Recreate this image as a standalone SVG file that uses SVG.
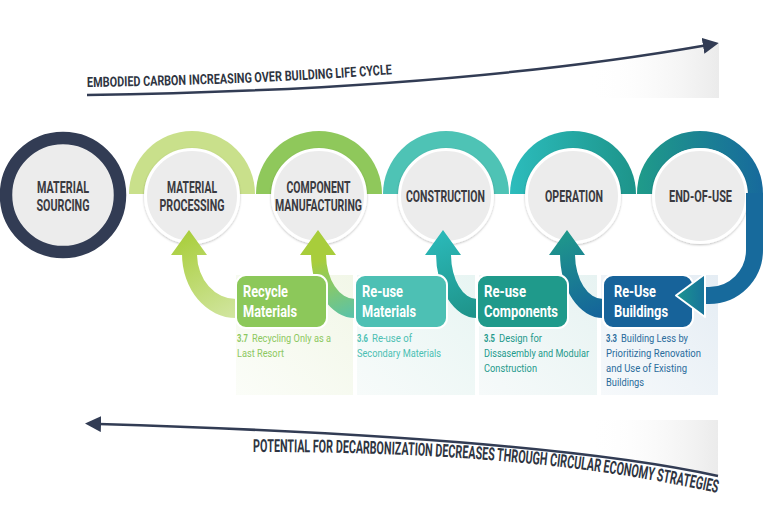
<svg xmlns="http://www.w3.org/2000/svg" width="768" height="523" viewBox="0 0 768 523">
<style>
  .lbl{font-family:Roboto,"Liberation Sans",sans-serif;font-weight:700;font-size:16px;fill:#3a3a40;text-anchor:middle}
  .ttl{font-family:Roboto,"Liberation Sans",sans-serif;font-weight:700;font-size:16.5px;fill:#ffffff}
  .dsc{font-family:Roboto,"Liberation Sans",sans-serif;font-weight:400;font-size:11.5px}
  .num{font-family:Roboto,"Liberation Sans",sans-serif;font-weight:700;font-size:11.5px}
  .axis{font-family:Roboto,"Liberation Sans",sans-serif;font-weight:700;fill:#2e3441}
  .disc{fill:#ececec;stroke:#ffffff;stroke-width:3;filter:url(#sh)}
  .box{stroke:#ffffff;stroke-width:2}
  .dline{fill:none;stroke:#323c54;stroke-width:2.5;marker-end:url(#ah)}
</style>
<defs>
  <filter id="sh" x="-20%" y="-20%" width="140%" height="140%">
    <feDropShadow dx="0" dy="1" stdDeviation="1.2" flood-color="#000" flood-opacity="0.25"/>
  </filter>
  <marker id="ah" viewBox="0 0 16 16" refX="2" refY="8" markerWidth="16" markerHeight="16" markerUnits="userSpaceOnUse" orient="auto">
    <path d="M0,0 L16,8 L0,16 Z" fill="#323c54"/>
  </marker>
  <linearGradient id="fade" x1="0" y1="0" x2="1" y2="0">
    <stop offset="0" stop-color="#ffffff" stop-opacity="0"/>
    <stop offset="1" stop-color="#ebebeb"/>
  </linearGradient>
  <linearGradient id="gOp" x1="510" y1="0" x2="636" y2="0" gradientUnits="userSpaceOnUse">
    <stop offset="0" stop-color="#2cbcbc"/>
    <stop offset="1" stop-color="#1d948a"/>
  </linearGradient>
  <linearGradient id="gEou" x1="640" y1="0" x2="762" y2="0" gradientUnits="userSpaceOnUse">
    <stop offset="0" stop-color="#1f9a8a"/>
    <stop offset="1" stop-color="#176a9c"/>
  </linearGradient>
  <linearGradient id="gEouH" x1="676" y1="0" x2="706" y2="0" gradientUnits="userSpaceOnUse">
    <stop offset="0" stop-color="#1b9590"/>
    <stop offset="1" stop-color="#17719b"/>
  </linearGradient>
  <linearGradient id="g1" x1="189" y1="230" x2="236" y2="318" gradientUnits="userSpaceOnUse">
    <stop offset="0" stop-color="#a9ce3c"/>
    <stop offset="1" stop-color="#d2e6a2"/>
  </linearGradient>
  <linearGradient id="g2" x1="318" y1="230" x2="355" y2="318" gradientUnits="userSpaceOnUse">
    <stop offset="0.3" stop-color="#a8cd3b"/>
    <stop offset="1" stop-color="#58c2ac"/>
  </linearGradient>
  <linearGradient id="g3" x1="443" y1="230" x2="477" y2="318" gradientUnits="userSpaceOnUse">
    <stop offset="0" stop-color="#2bb9b9"/>
    <stop offset="1" stop-color="#1e9288"/>
  </linearGradient>
  <linearGradient id="g4" x1="567" y1="230" x2="603" y2="318" gradientUnits="userSpaceOnUse">
    <stop offset="0" stop-color="#1f988b"/>
    <stop offset="1" stop-color="#14629b"/>
  </linearGradient>
  <linearGradient id="p1" x1="0" y1="1" x2="1" y2="0">
    <stop offset="0" stop-color="#fbfdf8"/>
    <stop offset="1" stop-color="#f2f7e8"/>
  </linearGradient>
  <linearGradient id="p2" x1="0" y1="1" x2="1" y2="0">
    <stop offset="0" stop-color="#f7fbfa"/>
    <stop offset="1" stop-color="#e8f5f3"/>
  </linearGradient>
  <linearGradient id="p3" x1="0" y1="1" x2="1" y2="0">
    <stop offset="0" stop-color="#f6fafa"/>
    <stop offset="1" stop-color="#e7f3f2"/>
  </linearGradient>
  <linearGradient id="p4" x1="0" y1="1" x2="1" y2="0">
    <stop offset="0" stop-color="#f6f9fb"/>
    <stop offset="1" stop-color="#e5edf4"/>
  </linearGradient>
  <clipPath id="outsideBoxes">
    <path clip-rule="evenodd" d="M0,0 H768 V523 H0 Z
      M246,274 h71 a11,11 0 0 1 11,11 v33 a11,11 0 0 1 -11,11 h-71 a11,11 0 0 1 -11,-11 v-33 a11,11 0 0 1 11,-11 Z
      M365,274 h72 a11,11 0 0 1 11,11 v33 a11,11 0 0 1 -11,11 h-72 a11,11 0 0 1 -11,-11 v-33 a11,11 0 0 1 11,-11 Z
      M487,274 h71 a11,11 0 0 1 11,11 v33 a11,11 0 0 1 -11,11 h-71 a11,11 0 0 1 -11,-11 v-33 a11,11 0 0 1 11,-11 Z
      M613,274 h70 a11,11 0 0 1 11,11 v33 a11,11 0 0 1 -11,11 h-70 a11,11 0 0 1 -11,-11 v-33 a11,11 0 0 1 11,-11 Z"/>
  </clipPath>
  <path id="tpTop" d="M87,87 Q450,82 706,36"/>
  <path id="tpBot" d="M253,452 C430,452 580,462 722,494"/>
</defs>

<rect width="768" height="523" fill="#ffffff"/>

<!-- background fades -->
<path d="M588,62 Q650,54 706,44 L719,44 L719,98 L588,98 Z" fill="url(#fade)"/>
<path d="M590,420 L718,420 L718,476 C682.6,468.2 639.8,461.2 589,455 Z" fill="url(#fade)"/>

<!-- panels -->
<g id="panels">
  <rect x="236" y="275" width="117" height="120" fill="url(#p1)"/>
  <rect x="357" y="275" width="118" height="120" fill="url(#p2)"/>
  <rect x="479" y="275" width="118" height="120" fill="url(#p3)"/>
  <rect x="601" y="275" width="117" height="120" fill="url(#p4)"/>
</g>

<!-- axis texts -->
<text class="axis" font-size="14"><textPath href="#tpTop" textLength="305" lengthAdjust="spacingAndGlyphs">EMBODIED CARBON INCREASING OVER BUILDING LIFE CYCLE</textPath></text>
<text class="axis" font-size="18"><textPath href="#tpBot" textLength="467" lengthAdjust="spacingAndGlyphs">POTENTIAL FOR DECARBONIZATION DECREASES THROUGH CIRCULAR ECONOMY STRATEGIES</textPath></text>

<!-- stage nodes -->
<g id="node-material-sourcing">
  <circle cx="63" cy="195" r="57" fill="#ececec" stroke="#323c54" stroke-width="12.5"/>
  <text class="lbl" x="63" y="193" textLength="52" lengthAdjust="spacingAndGlyphs">MATERIAL</text>
  <text class="lbl" x="63" y="211" textLength="53" lengthAdjust="spacingAndGlyphs">SOURCING</text>
</g>
<g id="node-material-processing">
  <path d="M129,194 A63,63 0 0 1 255,194 Z" fill="#c9e08b"/>
  <circle class="disc" cx="192" cy="196" r="46.5"/>
  <text class="lbl" x="192" y="193" textLength="50" lengthAdjust="spacingAndGlyphs">MATERIAL</text>
  <text class="lbl" x="192" y="211" textLength="65" lengthAdjust="spacingAndGlyphs">PROCESSING</text>
</g>
<g id="node-component-manufacturing">
  <path d="M256,194 A63,63 0 0 1 382,194 Z" fill="#8fc85b"/>
  <circle class="disc" cx="319" cy="196" r="46.5"/>
  <text class="lbl" x="318.5" y="193" textLength="64" lengthAdjust="spacingAndGlyphs">COMPONENT</text>
  <text class="lbl" x="318.5" y="211" textLength="87" lengthAdjust="spacingAndGlyphs">MANUFACTURING</text>
</g>
<g id="node-construction">
  <path d="M383,194 A63,63 0 0 1 509,194 Z" fill="#4ec3b5"/>
  <circle class="disc" cx="446" cy="196" r="46.5"/>
  <text class="lbl" x="445.5" y="202" textLength="79" lengthAdjust="spacingAndGlyphs">CONSTRUCTION</text>
</g>
<g id="node-operation">
  <path d="M510,194 A63,63 0 0 1 636,194 Z" fill="url(#gOp)"/>
  <circle class="disc" cx="573" cy="196" r="46.5"/>
  <text class="lbl" x="574" y="202" textLength="58" lengthAdjust="spacingAndGlyphs">OPERATION</text>
</g>
<g id="node-end-of-use">
  <path d="M645.5,194 A54.5,54.5 0 0 1 754.5,194" fill="none" stroke="url(#gEou)" stroke-width="17"/>
  <circle class="disc" cx="700" cy="196" r="46.5"/>
  <text class="lbl" x="700.5" y="202" textLength="63" lengthAdjust="spacingAndGlyphs">END-OF-USE</text>
</g>

<!-- strategy boxes -->
<g id="box-recycle-materials">
  <rect class="box" x="236" y="275" width="91" height="53" rx="10" fill="#8cc85a"/>
  <text class="ttl" x="243" y="297" textLength="45" lengthAdjust="spacingAndGlyphs">Recycle</text>
  <text class="ttl" x="243" y="317" textLength="54" lengthAdjust="spacingAndGlyphs">Materials</text>
  <text class="num" fill="#8cc860" x="237" y="342" textLength="11" lengthAdjust="spacingAndGlyphs">3.7</text>
  <text class="dsc" fill="#8cc860" x="252" y="342" textLength="79" lengthAdjust="spacingAndGlyphs">Recycling Only as a</text>
  <text class="dsc" fill="#8cc860" x="237" y="357" textLength="47" lengthAdjust="spacingAndGlyphs">Last Resort</text>
</g>
<g id="box-reuse-materials">
  <rect class="box" x="355" y="275" width="92" height="53" rx="10" fill="#4dc0b4"/>
  <text class="ttl" x="362" y="297" textLength="41" lengthAdjust="spacingAndGlyphs">Re-use</text>
  <text class="ttl" x="362" y="317" textLength="54" lengthAdjust="spacingAndGlyphs">Materials</text>
  <text class="num" fill="#4bbfb3" x="357" y="342" textLength="11" lengthAdjust="spacingAndGlyphs">3.6</text>
  <text class="dsc" fill="#4bbfb3" x="372" y="342" textLength="40" lengthAdjust="spacingAndGlyphs">Re-use of</text>
  <text class="dsc" fill="#4bbfb3" x="357" y="357" textLength="84" lengthAdjust="spacingAndGlyphs">Secondary Materials</text>
</g>
<g id="box-reuse-components">
  <rect class="box" x="477" y="275" width="91" height="53" rx="10" fill="#1f9a8b"/>
  <text class="ttl" x="484" y="297" textLength="42" lengthAdjust="spacingAndGlyphs">Re-use</text>
  <text class="ttl" x="484" y="317" textLength="74" lengthAdjust="spacingAndGlyphs">Components</text>
  <text class="num" fill="#1f9a8c" x="484" y="342" textLength="11" lengthAdjust="spacingAndGlyphs">3.5</text>
  <text class="dsc" fill="#1f9a8c" x="499" y="342" textLength="43" lengthAdjust="spacingAndGlyphs">Design for</text>
  <text class="dsc" fill="#1f9a8c" x="484" y="357" textLength="105" lengthAdjust="spacingAndGlyphs">Dissasembly and Modular</text>
  <text class="dsc" fill="#1f9a8c" x="484" y="371.5" textLength="53" lengthAdjust="spacingAndGlyphs">Construction</text>
</g>
<g id="box-reuse-buildings">
  <rect class="box" x="603" y="275" width="90" height="53" rx="10" fill="#17639a"/>
  <text class="ttl" x="614" y="297" textLength="42" lengthAdjust="spacingAndGlyphs">Re-Use</text>
  <text class="ttl" x="614" y="317" textLength="54" lengthAdjust="spacingAndGlyphs">Buildings</text>
  <text class="num" fill="#2a6c9c" x="606" y="342" textLength="11" lengthAdjust="spacingAndGlyphs">3.3</text>
  <text class="dsc" fill="#2a6c9c" x="621" y="342" textLength="67" lengthAdjust="spacingAndGlyphs">Building Less by</text>
  <text class="dsc" fill="#2a6c9c" x="606" y="357" textLength="95" lengthAdjust="spacingAndGlyphs">Prioritizing Renovation</text>
  <text class="dsc" fill="#2a6c9c" x="606" y="371.5" textLength="81" lengthAdjust="spacingAndGlyphs">and Use of Existing</text>
  <text class="dsc" fill="#2a6c9c" x="606" y="386" textLength="38" lengthAdjust="spacingAndGlyphs">Buildings</text>
</g>

<!-- connectors -->
<g id="connectors">
  <path class="dline" d="M87,95 Q450,90 705,45.5"/>
  <path class="dline" d="M718,476 C600,450 400,433 99,424"/>
  <g clip-path="url(#outsideBoxes)">
    <path fill="url(#g1)" d="M189,230 L207,255 L197,255 A39,45 0 0 0 236,299 L242,299 L242,318 L236,318 A54,64 0 0 1 182,254 L182,255 L171,255 Z"/>
    <path fill="url(#g2)" d="M318,230 L336,255 L326,255 A29,45 0 0 0 355,299 L361,299 L361,318 L355,318 A44,64 0 0 1 311,254 L311,255 L300,255 Z"/>
    <path fill="url(#g3)" d="M443,230 L461,255 L451,255 A26,45 0 0 0 477,299 L483,299 L483,318 L477,318 A41,64 0 0 1 436,254 L436,255 L425,255 Z"/>
    <path fill="url(#g4)" d="M567,230 L585,255 L575,255 A28,45 0 0 0 603,299 L609,299 L609,318 L603,318 A43,64 0 0 1 560,254 L560,255 L549,255 Z"/>
  </g>
  <path d="M754.5,193 L754.5,250 A45.5,45.5 0 0 1 709,295.5 L700,295.5" fill="none" stroke="#176a9c" stroke-width="17"/>
  <path d="M676,295.5 L705,274 L705,317 Z" fill="url(#gEouH)" stroke="#ffffff" stroke-width="2" stroke-linejoin="round"/>
</g>
</svg>
